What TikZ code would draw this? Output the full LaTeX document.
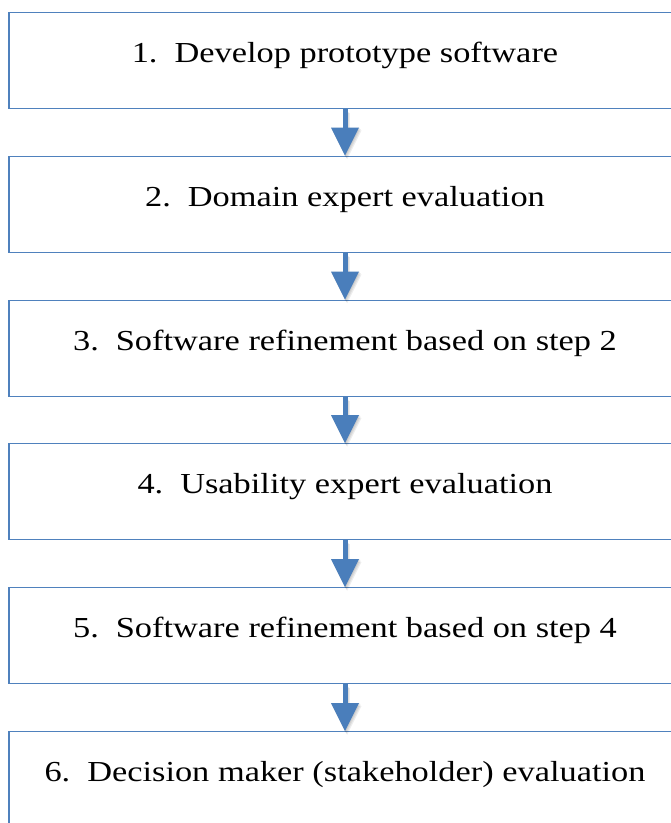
\documentclass[tikz,border=0pt]{standalone}
\usepackage{fontspec}
\setmainfont{Liberation Serif}[FakeStretch=1.185]
\usetikzlibrary{arrows.meta}
\definecolor{boxblue}{RGB}{79,129,189}
\definecolor{arrowblue}{RGB}{74,126,187}
\tikzset{
  stepbox/.style={draw=boxblue, line width=1.4pt, fill=white, rectangle,
    inner sep=0pt, minimum width=672pt, text height=50pt, text depth=46pt,
    anchor=north, font=\fontsize{29pt}{30pt}\selectfont},
  flowarrow/.style={draw=arrowblue, line width=5pt,
    -{Triangle[width=28pt,length=28pt,line width=0pt]}},
  flowshadow/.style={draw=black, line width=5pt, opacity=0.07,
    -{Triangle[width=29pt,length=29pt,line width=0pt]}}
}
\newcommand{\stepnum}[2]{#1\hspace{17pt}#2}
\begin{document}
\begin{tikzpicture}[x=1pt,y=1pt]
\useasboundingbox (0,0) rectangle (671,-823);
\clip (0,0) rectangle (671,-823);
\fill[white] (0,0) rectangle (671,-823);
\node[stepbox] (b1) at (345,-12)    {\stepnum{1.}{Develop prototype software}};
\node[stepbox] (b2) at (345,-155.5) {\stepnum{2.}{Domain expert evaluation}};
\node[stepbox] (b3) at (345,-299.5) {\stepnum{3.}{Software refinement based on step 2}};
\node[stepbox] (b4) at (345,-443)   {\stepnum{4.}{Usability expert evaluation}};
\node[stepbox] (b5) at (345,-587)   {\stepnum{5.}{Software refinement based on step 4}};
\node[stepbox] (b6) at (345,-731)   {\stepnum{6.}{Decision maker (stakeholder) evaluation}};
\foreach \a/\b in {b1/b2,b2/b3,b3/b4,b4/b5,b5/b6}{
  \foreach \s in {1,2,3}{
    \draw[flowshadow, transform canvas={shift={(\s*0.7pt,-\s*1.3pt)}}] (\a.south) -- (\b.north);
  }
  \draw[flowarrow] (\a.south) -- (\b.north);
}
\end{tikzpicture}
\end{document}
